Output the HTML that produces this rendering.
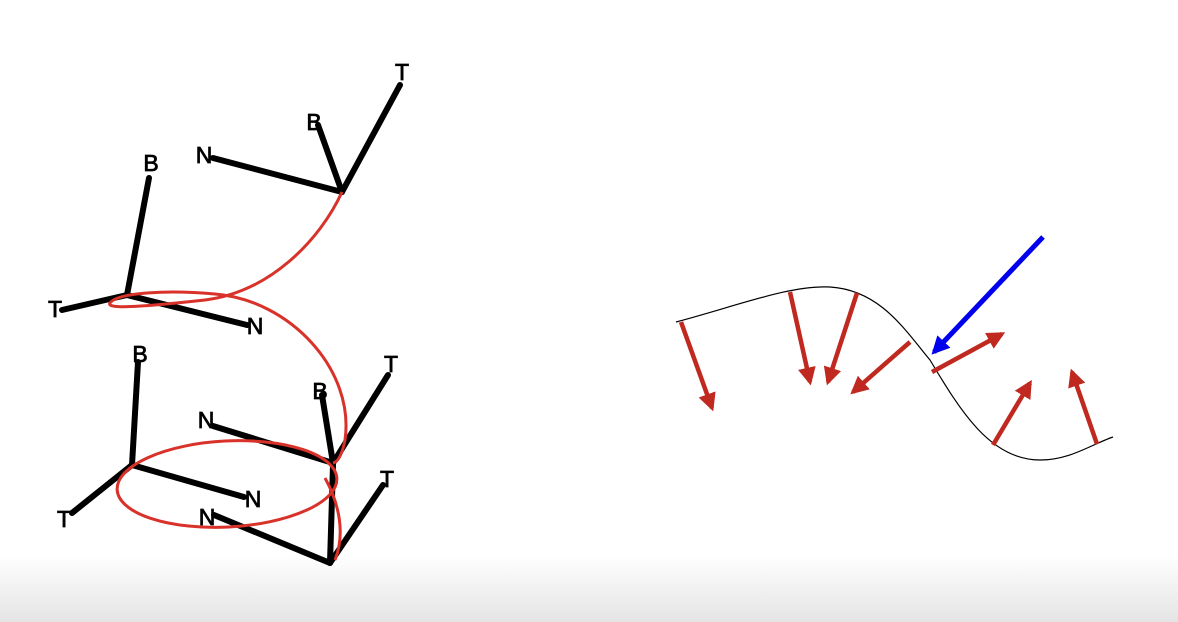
<!DOCTYPE html>
<html><head><meta charset="utf-8"><style>
html,body{margin:0;padding:0;width:1178px;height:622px;overflow:hidden;background:#fff}
svg{display:block}
text{font-family:"Liberation Sans",sans-serif;font-size:23px;fill:#000;stroke:#000;stroke-width:0.8}
</style></head><body>
<svg id="s" width="1178" height="622" viewBox="0 0 1178 622">
<defs>
<linearGradient id="g" x1="0" y1="0" x2="0" y2="1"><stop offset="0" stop-color="#fff"/><stop offset="1" stop-color="#e4e4e4"/></linearGradient>
<marker id="ar" viewBox="0 0 10 10" refX="8" refY="5" markerWidth="4" markerHeight="4" orient="auto"><path d="M0,0L10,5L0,10z" fill="#c0291f"/></marker>
<marker id="ab" viewBox="0 0 10 10" refX="8" refY="5" markerWidth="3.6" markerHeight="3.6" orient="auto"><path d="M0,0L10,5L0,10z" fill="#0000ee"/></marker>
</defs>
<rect x="0" y="555" width="1178" height="67" fill="url(#g)"/>
<g id="left" stroke="#000" stroke-width="6" stroke-linecap="round"></g>
<g fill="none" stroke="#d8322a" stroke-width="3">
<path d="M342,192 C320,240 270,292 205,300 C150,306 105,310 110,303 C118,292 170,290 215,294 C290,300 355,370 345,440 C342,455 338,462 333,463"/>
<ellipse cx="227" cy="484" rx="110" ry="43" transform="rotate(-3 227 484)"/>
<path d="M325,478 C340,505 345,535 335,560"/>
</g>
<path d="M676,322 C740,305 790,285 830,287 C880,290 905,330 930,360 C960,410 990,460 1040,460 C1070,460 1090,445 1113,437" fill="none" stroke="#000" stroke-width="1.2"/>
<g id="right"></g>
</svg>
<script>
const frames=[[342,192,[[400,85,'T',402,80],[318,125,'B',314,130],[213,158,'N',204,163]]],
[127,295,[[149,178,'B',151,171],[62,310,'T',55,317],[247,325,'N',255,334]]],
[333,463,[[322,395,'B',320,399],[388,375,'T',391,372],[213,426,'N',206,428]]],
[132,465,[[138,362,'B',140,362],[72,513,'T',64,527],[244,497,'N',253,507]]],
[330,563,[[333,465,'',0,0],[383,485,'T',387,487],[214,515,'N',207,525]]]];
const arrowsFrom=[[681,322],[790,292],[857,293],[910,342],[932,372],[993,445],[1097,444]];
const arrowsTo=[[712,408],[810,382],[828,382],[853,392],[1002,334],[1030,383],[1072,372]];
const ns='http://www.w3.org/2000/svg';
const L=document.getElementById('left'),R=document.getElementById('right'),S=document.getElementById('s');
frames.forEach(f=>{f[2].forEach(v=>{
 const l=document.createElementNS(ns,'line');
 l.setAttribute('x1',f[0]);l.setAttribute('y1',f[1]);l.setAttribute('x2',v[0]);l.setAttribute('y2',v[1]);
 
 
 L.appendChild(l);
 if(v[2]){const t=document.createElementNS(ns,'text');t.setAttribute('x',v[3]);t.setAttribute('y',v[4]);t.setAttribute('text-anchor','middle');t.textContent=v[2];
 
 
 S.appendChild(t);}
});});
arrowsFrom.forEach((a,i)=>{const b=arrowsTo[i];const l=document.createElementNS(ns,'line');
 l.setAttribute('x1',a[0]);l.setAttribute('y1',a[1]);l.setAttribute('x2',b[0]);l.setAttribute('y2',b[1]);
 l.setAttribute('stroke','#c0291f');l.setAttribute('stroke-width','4.5');l.setAttribute('marker-end','url(#ar)');
 
 
 R.appendChild(l);});
const bl=document.createElementNS(ns,'line');
bl.setAttribute('x1',1043);bl.setAttribute('y1',237);bl.setAttribute('x2',934);bl.setAttribute('y2',352);
bl.setAttribute('stroke','#0000ee');bl.setAttribute('stroke-width','5');bl.setAttribute('marker-end','url(#ab)');


S.appendChild(bl);
</script>
</body></html>
